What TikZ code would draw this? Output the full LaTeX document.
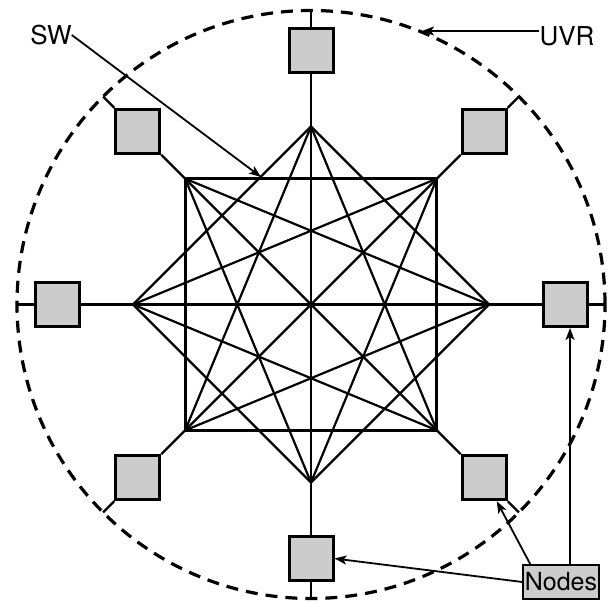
\documentclass[tikz,border=0pt]{standalone}
\usepackage{fontspec}
\setmainfont{TeX Gyre Heros}
\usetikzlibrary{arrows.meta}
\begin{document}
\begin{tikzpicture}[x=1pt,y=-1pt,
  link/.style={line width=2.2pt},
  sqedge/.style={line width=3pt},
  nodebox/.style={draw, line width=3pt, fill=gray!40, minimum size=44pt, inner sep=0pt},
  ring/.style={line width=3.2pt, dash pattern=on 12pt off 8pt},
  arr/.style={line width=1.8pt, -{Stealth[length=12pt,width=9pt,inset=3pt]}},
  lbl/.style={font=\fontsize{26}{30}\selectfont, inner sep=0pt},
  tag/.style={draw, line width=1.2pt, fill=gray!40, font=\fontsize{25}{28}\selectfont,
              minimum width=76pt, minimum height=34pt, inner sep=0pt}]
\useasboundingbox (0,0) rectangle (609,601);

% centre of the switch and of the ring
\coordinate (o) at (311,304.5);

% the dashed region boundary
\draw[ring] (o) circle (294pt);

% eight switch ports on an octagon
\foreach \i in {0,...,7}{
  \coordinate (p\i) at ([shift={(\i*45:178pt)}]o);
  \coordinate (c\i) at ([shift={(\i*45:294pt)}]o);
}

% end nodes: axial ones a little farther out than the diagonal ones
\foreach \i/\r in {0/254,1/245,2/254,3/245,4/254,5/245,6/254,7/245}{
  \node[nodebox] (n\i) at ([shift={(\i*45:\r pt)}]o) {};
}

% internal mesh (every pair of ports except neighbours)
\foreach \a/\b in {0/2,2/4,4/6,6/0,
                   0/3,1/4,2/5,3/6,4/7,5/0,6/1,7/2,
                   0/4,1/5,2/6,3/7}{
  \draw[link] (p\a) -- (p\b);
}
% the square frame of the switch
\draw[sqedge] (p1) -- (p3) -- (p5) -- (p7) -- cycle;

% node-to-port links and the stubs out to the ring
\foreach \i in {0,...,7}{
  \pgfmathtruncatemacro\ang{\i*45}
  \pgfmathtruncatemacro\back{\i*45+180}
  \draw[link] (n\i.\back) -- (p\i);
  \draw[link] (n\i.\ang) -- (c\i);
}

% labels and their pointers
\node[lbl] (sw) at (51,35) {SW};
\coordinate (swtip) at (261,177);
\draw[arr] (sw.east) -- (swtip);

\node[lbl] (uvr) at (567,36) {UVR};
\coordinate (uvrtip) at (422,31);
\draw[arr] (uvr.west |- uvrtip) -- (uvrtip);

\node[tag] (nodes) at (561,582) {Nodes};
\draw[arr] (nodes.west) -- (n6.east);
\draw[arr] ([xshift=8pt]nodes.north west) -- (n7);
\draw[arr] ([xshift=9pt]nodes.north) -- ([xshift=9pt]nodes.north |- n0.south);
\end{tikzpicture}
\end{document}
